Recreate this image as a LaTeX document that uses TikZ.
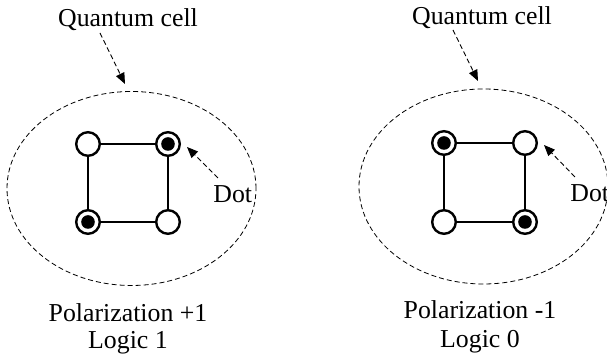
\documentclass[tikz,border=0pt]{standalone}
\usepackage{fontspec}
\setmainfont{Liberation Serif}
\usetikzlibrary{arrows.meta}
\begin{document}
\begin{tikzpicture}[x=0.5pt,y=-0.5pt,
  lbl/.style={inner sep=0pt,anchor=base,font=\fontsize{12.9}{15.5}\selectfont},
  cell/.style={draw,dash pattern=on 2.5pt off 1.5pt,line width=0.4pt},
  dot/.style={circle,draw,line width=1.2pt,fill=white,minimum size=11.8pt,inner sep=0pt},
  pointer/.style={dash pattern=on 2.5pt off 1.5pt,line width=0.45pt,-{Triangle[length=5.5pt,width=4.5pt]}},
  wire/.style={line width=1pt},
  elec/.style={circle,fill=black,minimum size=6.8pt,inner sep=0pt}]
\useasboundingbox (0,0) rectangle (607,362);
% ---------- left cell ----------
\draw[cell] (131.5,188.5) ellipse [x radius=124.5pt/2, y radius=97pt/2];
\node[dot] (a1) at (88,144) {};
\node[dot] (a2) at (168,144) {};
\node[dot] (a3) at (88,222) {};
\node[dot] (a4) at (168,222) {};
\draw[wire] (a1) -- (a2) (a2) -- (a4) (a4) -- (a3) (a3) -- (a1);
\node[elec] (e2) at (a2) {};
\node[elec] (e3) at (a3) {};
\node[lbl] (qa) at (128,27) {Quantum cell};
\coordinate (qas) at (100,33);
\coordinate (qae) at (125,84);
\draw[pointer] (qas) -- (qae);
\node[lbl,anchor=base west] (da) at (213,203) {Dot};
\coordinate (das) at (218,178);
\coordinate (dae) at (187,147);
\draw[pointer] (das) -- (dae);
\node[lbl] (pa) at (128,322) {Polarization +1};
\node[lbl] (la) at (128,349) {Logic 1};
% ---------- right cell ----------
\draw[cell] (483.5,186.5) ellipse [x radius=124.5pt/2, y radius=97.5pt/2];
\node[dot] (b1) at (444,143) {};
\node[dot] (b2) at (525,143) {};
\node[dot] (b3) at (444,222) {};
\node[dot] (b4) at (525,222) {};
\draw[wire] (b1) -- (b2) (b2) -- (b4) (b4) -- (b3) (b3) -- (b1);
\node[elec] (f1) at (b1) {};
\node[elec] (f4) at (b4) {};
\node[lbl] (qb) at (482,25) {Quantum cell};
\coordinate (qbs) at (453,30);
\coordinate (qbe) at (478,81);
\draw[pointer] (qbs) -- (qbe);
\node[lbl,anchor=base west] (db) at (570,202) {Dot};
\coordinate (dbs) at (575,177);
\coordinate (dbe) at (544,145);
\draw[pointer] (dbs) -- (dbe);
\node[lbl] (pb) at (480,319) {Polarization -1};
\node[lbl] (lb) at (480,348) {Logic 0};
\end{tikzpicture}
\end{document}
